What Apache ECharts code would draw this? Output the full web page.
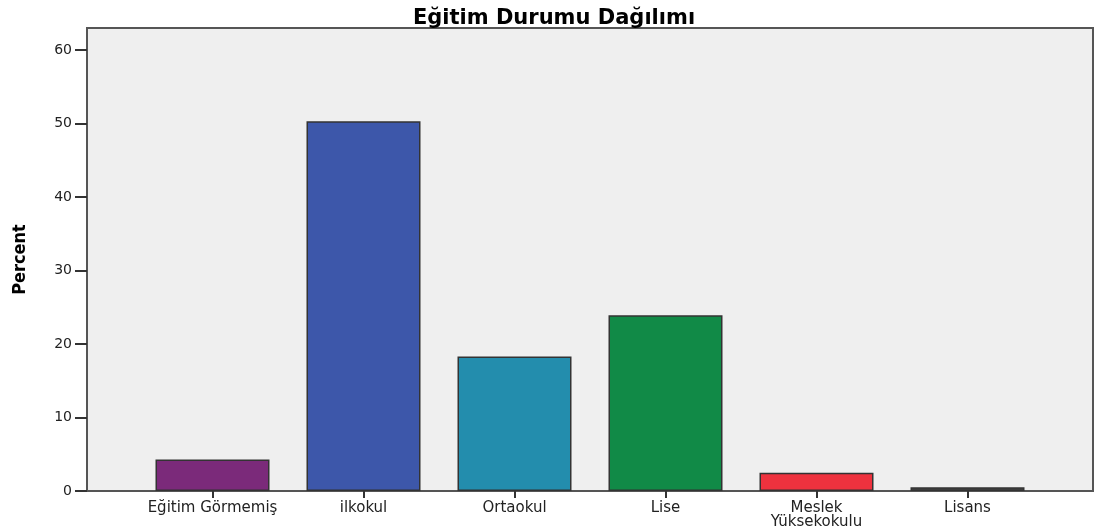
<!DOCTYPE html>
<html>
<head>
<meta charset="utf-8">
<script src="https://cdn.jsdelivr.net/npm/echarts@6/dist/echarts.min.js"></script>
<style>
  html, body { margin: 0; padding: 0; background: #fff; }
  #chart { width: 1096px; height: 528px; }
</style>
</head>
<body>
<div id="chart"></div>
<script>
var categories = ["Eğitim Görmemiş", "ilkokul", "Ortaokul", "Lise", "Meslek\nYüksekokulu", "Lisans"];
var percents = [4.3, 50.3, 18.3, 23.9, 2.5, 0.5];
var barColors = ["#7b2a7a", "#3d57aa", "#238dad", "#118a47", "#ee323e", "#474747"];
var yTicks = [0, 10, 20, 30, 40, 50, 60];

var chart = echarts.init(document.getElementById("chart"));

var data = [];
for (var i = 0; i < percents.length; i++) {
  data.push({
    value: percents[i],
    itemStyle: { color: barColors[i] }
  });
}

var font = "'DejaVu Sans', sans-serif";

var option = {
  backgroundColor: "#fff",
  animation: false,
  title: {
    text: "Eğitim Durumu Dağılımı",
    left: 549,
    textAlign: "center",
    top: 3,
    textStyle: { fontFamily: font, fontSize: 21, fontWeight: "bold", color: "#000" }
  },
  grid: [
    // background frame
    { left: 87, right: 3, top: 28, bottom: 37, show: true, outerBoundsMode: "none",
      backgroundColor: "#efefef", borderColor: "#555", borderWidth: 2 },
    // bars, inset so categories sit away from frame edges
    { left: 137, right: 53, top: 28, bottom: 37, outerBoundsMode: "none" }
  ],
  xAxis: [
    { gridIndex: 0, type: "value", show: false, min: 0, max: 1 },
    {
      gridIndex: 1,
      type: "category",
      data: categories,
      axisLine: { show: false },
      axisTick: { show: true, alignWithLabel: true, length: 7, lineStyle: { color: "#333", width: 2 } },
      axisLabel: { color: "#222", fontFamily: font, fontSize: 15, margin: 10, lineHeight: 14, interval: 0 }
    }
  ],
  yAxis: [
    { gridIndex: 0, type: "value", show: false, min: 0, max: 1 },
    {
      gridIndex: 1,
      type: "value",
      min: 0,
      max: 63,
      interval: 10,
      offset: 50,
      name: "Percent",
      nameLocation: "middle",
      nameGap: 58,
      nameTextStyle: { fontFamily: "'DejaVu Sans Condensed', 'DejaVu Sans', sans-serif", fontSize: 18, fontWeight: "bold", color: "#000" },
      axisLine: { show: false },
      axisTick: { show: true, length: 12, customValues: yTicks, lineStyle: { color: "#333", width: 2 } },
      axisLabel: { color: "#222", fontFamily: font, fontSize: 14, margin: 15, customValues: yTicks },
      splitLine: { show: false }
    }
  ],
  series: [
    {
      type: "bar",
      xAxisIndex: 1,
      yAxisIndex: 1,
      data: data,
      barWidth: 114,
      itemStyle: { borderColor: "#333", borderWidth: 1.5 }
    }
  ]
};

chart.setOption(option);
</script>
</body>
</html>
